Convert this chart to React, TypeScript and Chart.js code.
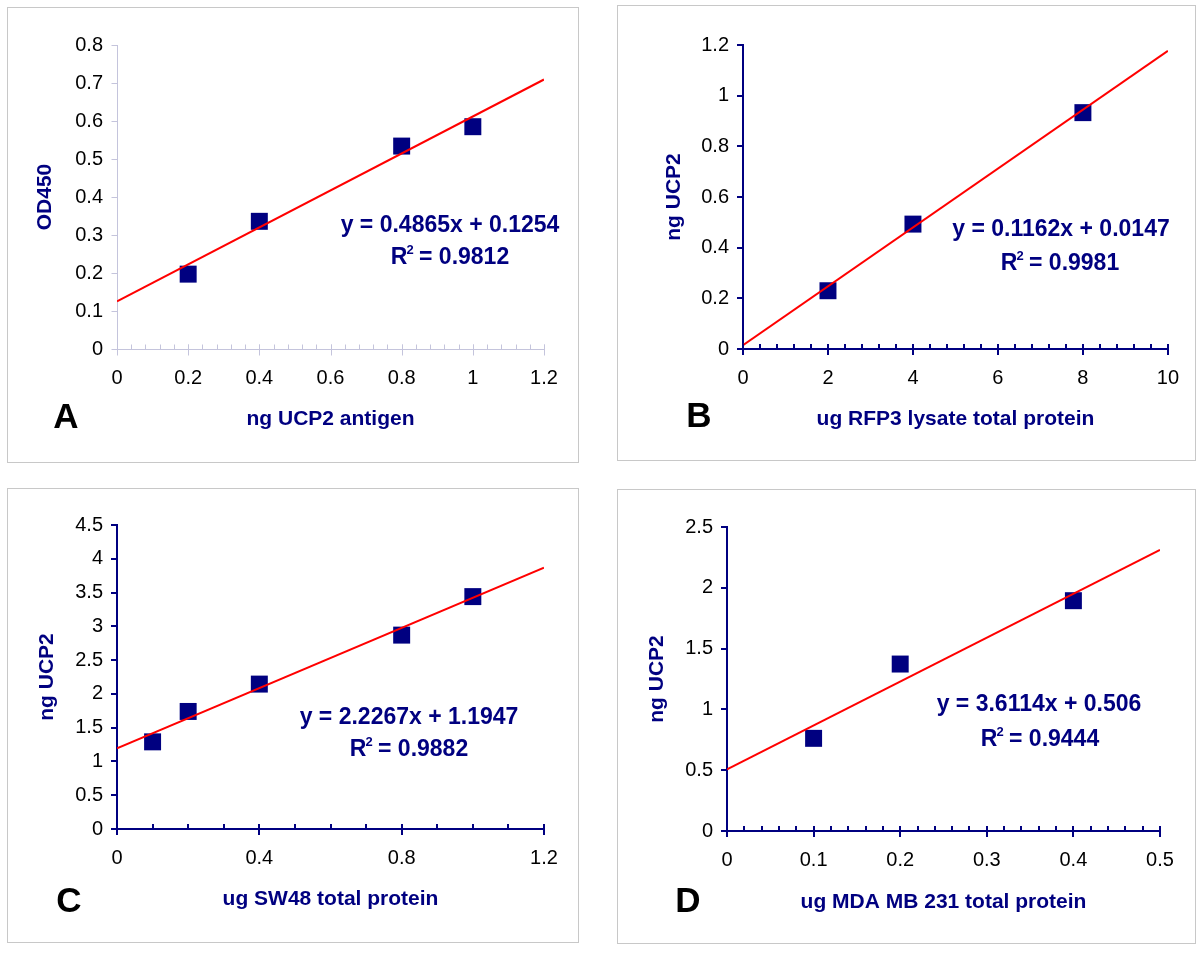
import React, { useEffect, useRef } from "react";
import { Chart, registerables } from "chart.js";

Chart.register(...registerables);

const NAVY = "#000080";
const RED = "#ff0000";
const FONT = "'Liberation Sans', Arial, Helvetica, sans-serif";

// ---------- Panel A ----------
const xA = [0.2, 0.4, 0.8, 1.0];
const yA = [0.197, 0.336, 0.534, 0.585];
const trendXA = [0, 1.2];
const trendYA = [0.1254, 0.7092];
const xTicksA = [0, 0.2, 0.4, 0.6, 0.8, 1, 1.2];
const yTicksA = [0, 0.1, 0.2, 0.3, 0.4, 0.5, 0.6, 0.7, 0.8];
const eqA = "y = 0.4865x + 0.1254";
const r2A = "0.9812";

// ---------- Panel B ----------
const xB = [2, 4, 8];
const yB = [0.23, 0.493, 0.933];
const trendXB = [0, 10];
const trendYB = [0.0147, 1.1767];
const xTicksB = [0, 2, 4, 6, 8, 10];
const yTicksB = [0, 0.2, 0.4, 0.6, 0.8, 1, 1.2];
const eqB = "y = 0.1162x + 0.0147";
const r2B = "0.9981";

// ---------- Panel C ----------
const xC = [0.1, 0.2, 0.4, 0.8, 1.0];
const yC = [1.29, 1.74, 2.145, 2.87, 3.44];
const trendXC = [0, 1.2];
const trendYC = [1.1947, 3.8667];
const xTicksC = [0, 0.4, 0.8, 1.2];
const yTicksC = [0, 0.5, 1, 1.5, 2, 2.5, 3, 3.5, 4, 4.5];
const eqC = "y = 2.2267x + 1.1947";
const r2C = "0.9882";

// ---------- Panel D ----------
const xD = [0.1, 0.2, 0.4];
const yD = [0.762, 1.373, 1.894];
const trendXD = [0, 0.5];
const trendYD = [0.506, 2.3117];
const xTicksD = [0, 0.1, 0.2, 0.3, 0.4, 0.5];
const yTicksD = [0, 0.5, 1, 1.5, 2, 2.5];
const eqD = "y = 3.6114x + 0.506";
const r2D = "0.9444";

const fmt = (v: number) => String(Number(v.toFixed(3)));

type Panel = {
  letter: string;
  box: { L: number; T: number; W: number; H: number };
  ca: { left: number; right: number; top: number; bottom: number };
  xs: number[];
  ys: number[];
  tx: number[];
  ty: number[];
  xTicks: number[];
  yTicks: number[];
  minorStep: number;
  xTitle: string;
  yTitle: string;
  eq: string;
  r2: string;
  yTitlePad: number;
  xTitlePad: number;
  letterPos: [number, number];
  eqPos: [number, number];
  r2Pos: [number, number];
  axisColor: string;
  axisWidth: number;
};

const panels: Panel[] = [
  {
    letter: "A",
    box: { L: 7, T: 7, W: 572, H: 456 },
    ca: { left: 110, right: 537, top: 38, bottom: 342 },
    xs: xA, ys: yA, tx: trendXA, ty: trendYA,
    xTicks: xTicksA, yTicks: yTicksA, minorStep: 0.04,
    xTitle: "ng UCP2 antigen", yTitle: "OD450",
    eq: eqA, r2: r2A,
    yTitlePad: 26, xTitlePad: 31,
    letterPos: [59, 411], eqPos: [443, 219], r2Pos: [443, 251],
    axisColor: "#c4c4dc", axisWidth: 1,
  },
  {
    letter: "B",
    box: { L: 617, T: 5, W: 579, H: 456 },
    ca: { left: 126, right: 561, top: 40, bottom: 344 },
    xs: xB, ys: yB, tx: trendXB, ty: trendYB,
    xTicks: xTicksB, yTicks: yTicksB, minorStep: 0.4,
    xTitle: "ug RFP3 lysate total protein", yTitle: "ng UCP2",
    eq: eqB, r2: r2B,
    yTitlePad: 45, xTitlePad: 29,
    letterPos: [82, 412], eqPos: [444, 225], r2Pos: [443, 259],
    axisColor: NAVY, axisWidth: 2,
  },
  {
    letter: "C",
    box: { L: 7, T: 488, W: 572, H: 455 },
    ca: { left: 110, right: 537, top: 37, bottom: 341 },
    xs: xC, ys: yC, tx: trendXC, ty: trendYC,
    xTicks: xTicksC, yTicks: yTicksC, minorStep: 0.1,
    xTitle: "ug SW48 total protein", yTitle: "ng UCP2",
    eq: eqC, r2: r2C,
    yTitlePad: 28, xTitlePad: 31,
    letterPos: [62, 414], eqPos: [402, 230], r2Pos: [402, 262],
    axisColor: NAVY, axisWidth: 2,
  },
  {
    letter: "D",
    box: { L: 617, T: 489, W: 579, H: 455 },
    ca: { left: 110, right: 543, top: 38, bottom: 342 },
    xs: xD, ys: yD, tx: trendXD, ty: trendYD,
    xTicks: xTicksD, yTicks: yTicksD, minorStep: 0.02,
    xTitle: "ug MDA MB 231 total protein", yTitle: "ng UCP2",
    eq: eqD, r2: r2D,
    yTitlePad: 28, xTitlePad: 29,
    letterPos: [71, 413], eqPos: [422, 216], r2Pos: [423, 251],
    axisColor: NAVY, axisWidth: 2,
  },
];

function PanelChart({ p }: { p: Panel }) {
  const ref = useRef<HTMLCanvasElement | null>(null);

  useEffect(() => {
    if (!ref.current) return;
    const xMax = p.xTicks[p.xTicks.length - 1];
    const yMax = p.yTicks[p.yTicks.length - 1];

    const decor = {
      id: "decor" + p.letter,
      afterDraw(chart: any) {
        const { ctx, chartArea, scales } = chart;
        const xs = scales.x;
        const ys = scales.y;
        const off = p.axisWidth % 2 === 1 ? 0.5 : 0;
        ctx.save();
        ctx.strokeStyle = p.axisColor;
        ctx.lineWidth = p.axisWidth;
        ctx.beginPath();
        const lx = Math.round(chartArea.left) + off;
        for (const v of p.yTicks) {
          const py = Math.round(ys.getPixelForValue(v)) + off;
          ctx.moveTo(lx - 6, py);
          ctx.lineTo(lx, py);
        }
        const by = Math.round(chartArea.bottom) + off;
        const n = Math.round(xMax / p.minorStep);
        for (let i = 0; i <= n; i++) {
          const px = Math.round(xs.getPixelForValue(i * p.minorStep)) + off;
          ctx.moveTo(px, by - 5);
          ctx.lineTo(px, by);
        }
        for (const v of p.xTicks) {
          const px = Math.round(xs.getPixelForValue(v)) + off;
          ctx.moveTo(px, by - 5);
          ctx.lineTo(px, by + 6);
        }
        ctx.stroke();

        // equation
        ctx.fillStyle = NAVY;
        ctx.textBaseline = "middle";
        const big = `bold 23px ${FONT}`;
        const small = `bold 13px ${FONT}`;
        ctx.font = big;
        ctx.textAlign = "center";
        ctx.fillText(p.eq, p.eqPos[0], p.eqPos[1]);
        // R^2 line
        ctx.textAlign = "left";
        const wR = ctx.measureText("R").width;
        const rest = " = " + p.r2;
        const wRest = ctx.measureText(rest).width;
        ctx.font = small;
        const w2 = ctx.measureText("2").width;
        const total = wR + w2 + wRest - 2;
        const x0 = p.r2Pos[0] - total / 2;
        ctx.font = big;
        ctx.fillText("R", x0, p.r2Pos[1]);
        ctx.font = small;
        ctx.fillText("2", x0 + wR - 1, p.r2Pos[1] - 8);
        ctx.font = big;
        ctx.fillText(rest, x0 + wR + w2 - 2, p.r2Pos[1]);

        // panel letter
        ctx.fillStyle = "#000";
        ctx.textAlign = "center";
        ctx.font = `bold 35px ${FONT}`;
        ctx.fillText(p.letter, p.letterPos[0], p.letterPos[1]);
        ctx.restore();
      },
    };

    const chart = new Chart(ref.current, {
      type: "scatter",
      data: {
        datasets: [
          {
            type: "line",
            data: p.tx.map((x, i) => ({ x, y: p.ty[i] })),
            borderColor: RED,
            borderWidth: 2,
            pointRadius: 0,
            fill: false,
          } as any,
          {
            data: p.xs.map((x, i) => ({ x, y: p.ys[i] })),
            pointStyle: "rect",
            pointRadius: 12,
            pointHoverRadius: 12,
            backgroundColor: NAVY,
            borderColor: NAVY,
            borderWidth: 0,
          },
        ],
      },
      options: {
        animation: false,
        responsive: false,
        maintainAspectRatio: false,
        devicePixelRatio: 1,
        events: [],
        layout: {
          padding: {
            left: 0,
            top: p.ca.top,
            right: p.box.W - p.ca.right,
            bottom: 0,
          },
        },
        plugins: {
          legend: { display: false },
          tooltip: { enabled: false },
        },
        scales: {
          x: {
            type: "linear",
            min: 0,
            max: xMax,
            afterFit: (s: any) => {
              s.height = p.box.H - p.ca.bottom;
            },
            afterBuildTicks: (s: any) => {
              s.ticks = p.xTicks.map((v) => ({ value: v }));
            },
            grid: { display: false, drawTicks: false, tickLength: 0 },
            border: { display: true, color: p.axisColor, width: p.axisWidth },
            ticks: {
              color: "#000",
              font: { family: FONT, size: 20 },
              padding: 17,
              maxRotation: 0,
              autoSkip: false,
              callback: (v: any) => fmt(Number(v)),
            },
            title: {
              display: true,
              text: p.xTitle,
              color: NAVY,
              font: { family: FONT, size: 21, weight: "bold" },
              padding: { top: 0, bottom: p.xTitlePad },
            },
          },
          y: {
            type: "linear",
            min: 0,
            max: yMax,
            afterFit: (s: any) => {
              s.width = p.ca.left;
            },
            afterBuildTicks: (s: any) => {
              s.ticks = p.yTicks.map((v) => ({ value: v }));
            },
            grid: { display: false, drawTicks: false, tickLength: 0 },
            border: { display: true, color: p.axisColor, width: p.axisWidth },
            ticks: {
              color: "#000",
              font: { family: FONT, size: 20 },
              padding: 14,
              autoSkip: false,
              callback: (v: any) => fmt(Number(v)),
            },
            title: {
              display: true,
              text: p.yTitle,
              color: NAVY,
              font: { family: FONT, size: 21, weight: "bold" },
              padding: { top: p.yTitlePad, bottom: 0 },
            },
          },
        },
      } as any,
      plugins: [decor],
    });
    return () => chart.destroy();
  }, [p]);

  return (
    <>
      <div
        style={{
          position: "absolute",
          left: p.box.L,
          top: p.box.T,
          width: p.box.W,
          height: p.box.H,
          border: "1px solid #c8c8c8",
          boxSizing: "border-box",
          background: "#fff",
        }}
      />
      <canvas
        ref={ref}
        width={p.box.W}
        height={p.box.H}
        style={{
          position: "absolute",
          left: p.box.L,
          top: p.box.T,
          width: p.box.W,
          height: p.box.H,
        }}
      />
    </>
  );
}

export default function App() {
  return (
    <div
      style={{
        position: "absolute",
        left: 0,
        top: 0,
        width: 1200,
        height: 954,
        background: "#fff",
        overflow: "hidden",
      }}
    >
      {panels.map((p) => (
        <PanelChart key={p.letter} p={p} />
      ))}
    </div>
  );
}
